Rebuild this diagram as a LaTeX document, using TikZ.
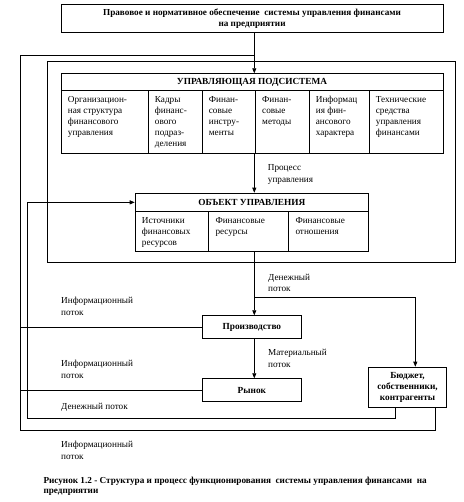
\documentclass[tikz,border=0pt]{standalone}
\usepackage{fontspec}
\setmainfont{Liberation Serif}
\usetikzlibrary{arrows.meta}

\tikzset{
  box/.style={draw, line width=0.7pt, inner sep=0pt, align=center,
    font=\fontsize{9.3}{11.4}\selectfont\bfseries},
  cell/.style={draw, line width=0.7pt, inner sep=0pt},
  celltext/.style={anchor=north west, inner sep=0pt, align=left,
    font=\fontsize{9.2}{11}\selectfont},
  lbl/.style={anchor=north west, inner sep=0pt, align=left,
    font=\fontsize{9.2}{11.5}\selectfont},
  link/.style={line width=0.7pt},
  flow/.style={link, -{Triangle[length=5pt,width=4pt]}},
}

\begin{document}
\begin{tikzpicture}[x=1pt, y=-1pt, line cap=butt, line join=miter]
\useasboundingbox (0,0) rectangle (463,502);

% legal basis
\node[box, anchor=north west, minimum width=382pt, minimum height=28.3pt,
  font=\fontsize{9.2}{11.4}\selectfont\bfseries]
  (law) at (60.7,4) {Правовое и нормативное обеспечение\ \ системы управления финансами\\на предприятии};

% frame of the system
\draw[link] (47.7,61.3) rectangle (455.3,262.3);

% control subsystem
\node[box, anchor=north west, minimum width=382pt, minimum height=16.7pt]
  (ctrl) at (60.7,73.3) {УПРАВЛЯЮЩАЯ ПОДСИСТЕМА};
\foreach \i/\xa/\w/\txt in {
    1/60.7/87/{Организацион-\\ная структура\\финансового\\управления},
    2/147.7/54/{Кадры\\финанс-\\ового\\подраз-\\деления},
    3/201.7/53.3/{Финан-\\совые\\инстру-\\менты},
    4/255/53.7/{Финан-\\совые\\методы},
    5/308.7/60/{Информац\\ия фин-\\ансового\\характера},
    6/368.7/74/{Технические\\средства\\управления\\финансами}}{
  \node[cell, anchor=north west, minimum width=\w pt, minimum height=63.3pt]
    (u\i) at (\xa,90) {};
  \node[celltext] (ut\i) at ([shift={(7,6)}]u\i.north west) {\txt};
}

% object of control
\node[box, anchor=north west, minimum width=233.6pt, minimum height=18.6pt]
  (obj) at (134.7,192.7) {ОБЪЕКТ УПРАВЛЕНИЯ};
\foreach \i/\xa/\w/\txt in {
    1/134.7/73.6/{Источники\\финансовых\\ресурсов},
    2/208.3/80/{Финансовые\\ресурсы},
    3/288.3/80/{Финансовые\\отношения}}{
  \node[cell, anchor=north west, minimum width=\w pt, minimum height=39.7pt]
    (o\i) at (\xa,211.3) {};
  \node[celltext] (ot\i) at ([shift={(7,6)}]o\i.north west) {\txt};
}

% lower blocks
\node[box, anchor=north west, minimum width=99.6pt, minimum height=23pt]
  (prod) at (201.7,315.3) {Производство};
\node[box, anchor=north west, minimum width=99.6pt, minimum height=22.7pt]
  (market) at (201.7,378.3) {Рынок};
\node[box, anchor=north west, minimum width=77.7pt, minimum height=40.6pt]
  (budget) at (368.3,366.7) {Бюджет,\\собственники,\\контрагенты};

% helper points
\coordinate (axis) at (254.3,0);
\coordinate (split) at (254.3,297.3);
\coordinate (tobud) at (415.3,0);
\coordinate (money) at (395.7,0);
\coordinate (info) at (435.3,0);
\coordinate (mloop) at (27.3,418);
\coordinate (iloop) at (20.7,430);
\coordinate (itop) at (20.7,55.7);

% connectors
\draw[flow] (law.south -| axis) -- (ctrl.north -| axis);
\draw[flow] (u4.south -| axis) -- (obj.north -| axis);
\draw[flow] (o2.south -| axis) -- (prod.north -| axis);
\draw[flow] (split) -| (budget.north -| tobud);
\draw[flow] (prod.south -| axis) -- (market.north -| axis);
\draw[link] (prod.west) -- (prod.west -| iloop);
\draw[link] (market.west) -- (market.west -| iloop);
\draw[flow] (budget.south -| money) |- (mloop) |- (obj.west);
\draw[link] (budget.south -| info) |- (iloop) |- (itop -| axis);

% flow labels
\node[lbl] (lproc) at (267.7,164.5) {Процесс\\управления};
\node[lbl] (lmon1) at (268,274) {Денежный\\поток};
\node[lbl] (linf1) at (61,297) {Информационный\\поток};
\node[lbl] (lmat) at (268,349) {Материальный\\поток};
\node[lbl] (linf2) at (61,360) {Информационный\\поток};
\node[lbl] (lmon2) at (61,402.5) {Денежный поток};
\node[lbl] (linf3) at (61,441) {Информационный\\поток};

% caption
\node[lbl, font=\fontsize{9.2}{9.5}\selectfont\bfseries] (cap) at (43.3,477)
  {Рисунок 1.2 - Структура и процесс функционирования\ \ системы управления финансами\ \ на\\предприятии};
\end{tikzpicture}
\end{document}
